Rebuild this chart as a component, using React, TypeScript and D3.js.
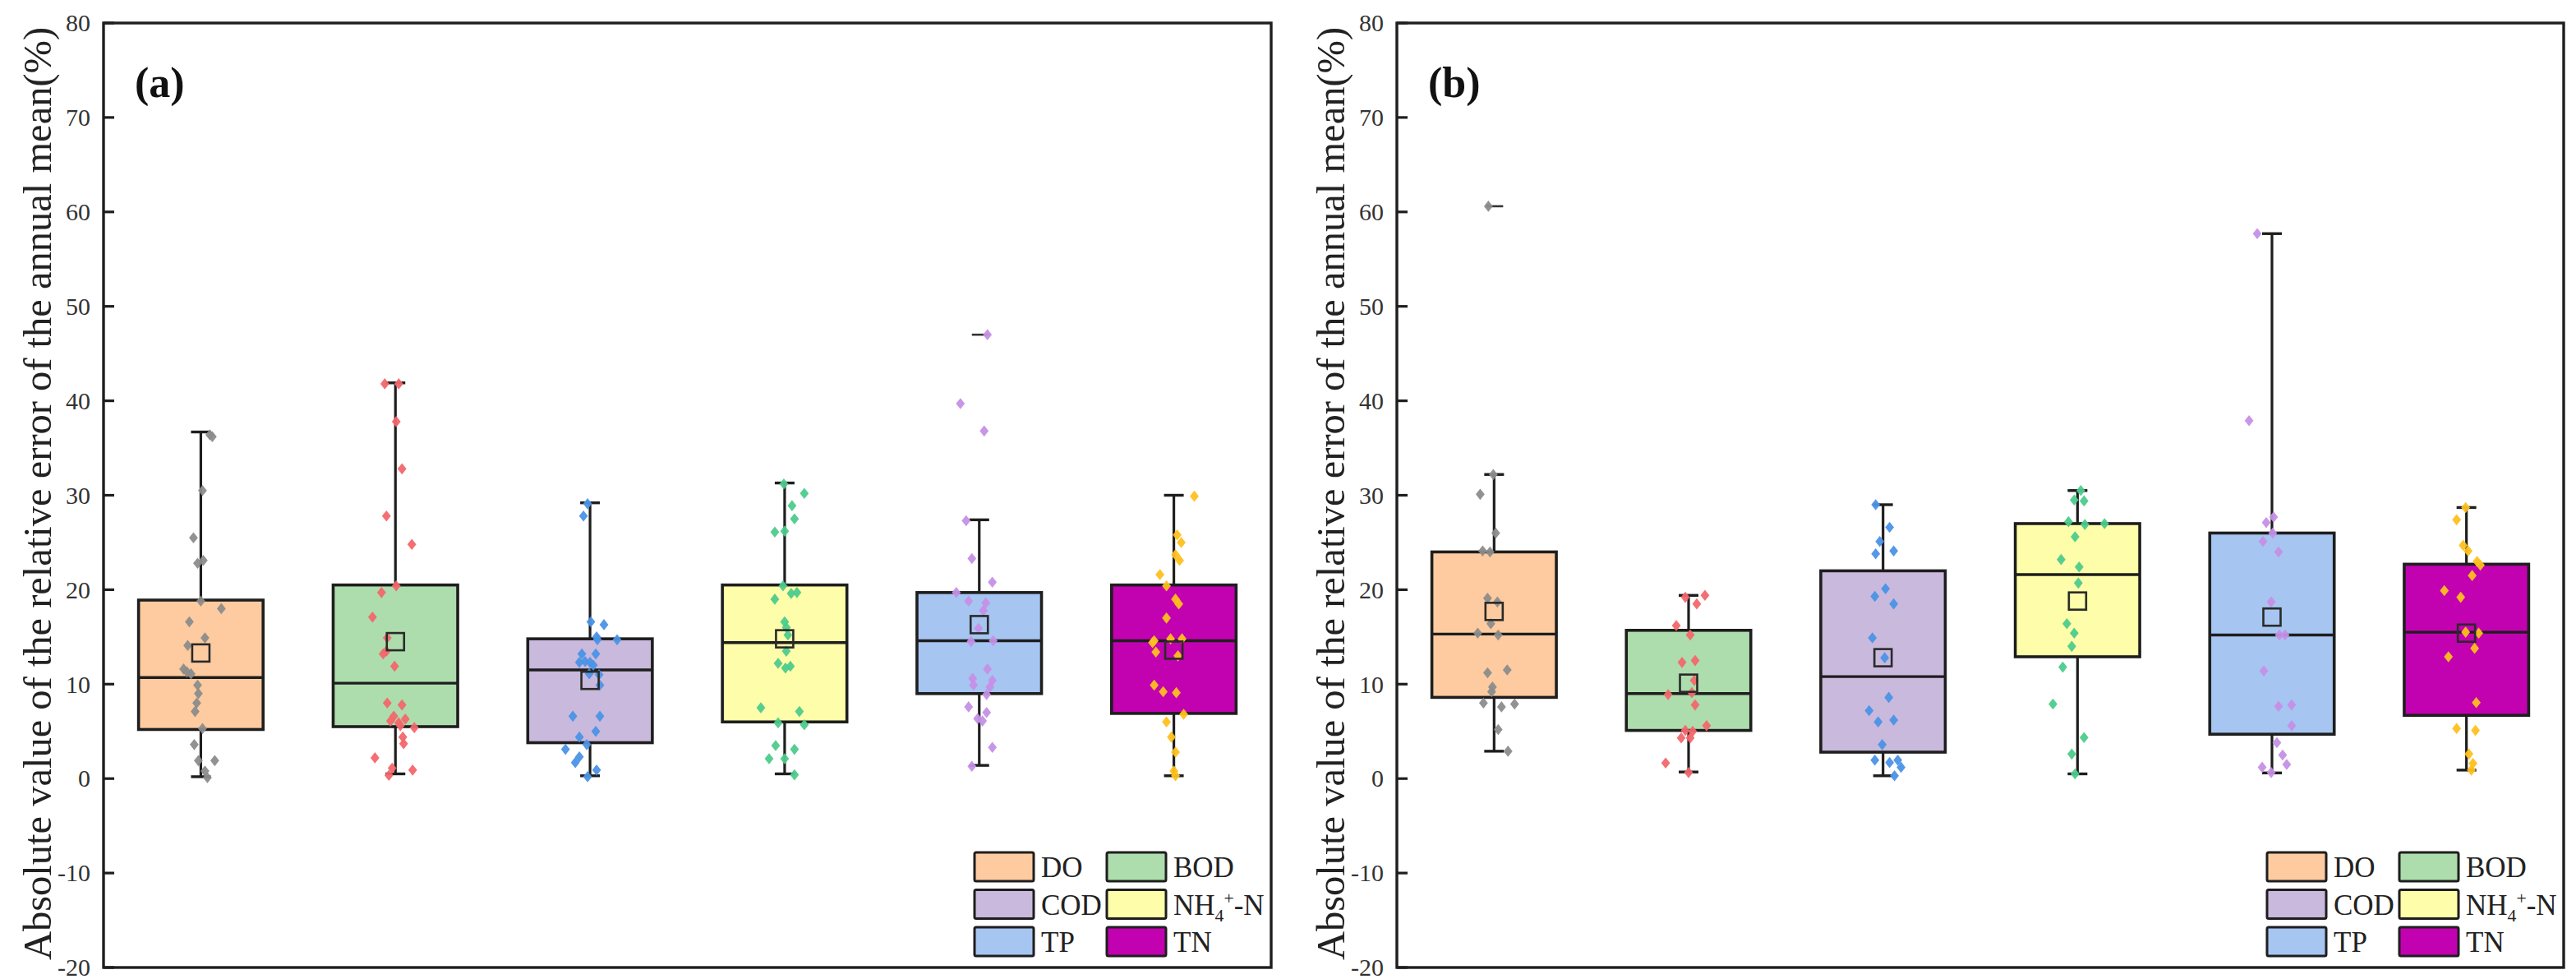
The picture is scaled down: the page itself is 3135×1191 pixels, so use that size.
import React from "react";
import * as d3 from "d3";

// ---------- data ----------
const categories = ["DO", "BOD", "COD", "NH4", "TP", "TN"];

// panel (a) box statistics
const whiskerHighA = [36.7, 41.9, 29.2, 31.3, 27.4, 30.0];
const q3A = [18.9, 20.5, 14.8, 20.5, 19.7, 20.5];
const medianA = [10.7, 10.1, 11.5, 14.4, 14.6, 14.6];
const q1A = [5.2, 5.5, 3.8, 6.0, 9.0, 6.9];
const whiskerLowA = [0.2, 0.5, 0.3, 0.5, 1.4, 0.3];
const meanA = [13.3, 14.5, 10.4, 14.8, 16.3, 13.6];
const maxMarkA = [null, null, null, null, 47.0, null];

// panel (b) box statistics
const whiskerHighB = [32.2, 19.4, 29.0, 30.5, 57.7, 28.7];
const q3B = [24.0, 15.7, 22.0, 27.0, 26.0, 22.7];
const medianB = [15.3, 9.0, 10.8, 21.6, 15.2, 15.5];
const q1B = [8.6, 5.1, 2.8, 12.9, 4.7, 6.7];
const whiskerLowB = [2.9, 0.7, 0.3, 0.5, 0.6, 0.9];
const meanB = [17.7, 10.1, 12.8, 18.8, 17.1, 15.4];
const maxMarkB = [60.6, null, null, null, null, null];

// panel (a) raw points (value) and their horizontal jitter (1/152 of box width)
const doA = [36.4, 36.2, 30.5, 25.5, 22.8, 23.1, 18.8, 18.0, 16.6, 14.9, 14.1, 11.6, 11.3, 11.1, 9.9, 9.0, 8.0, 7.1, 5.3, 3.6, 1.9, 1.9, 0.8, 0.1];
const doAJit = [11, 14, 2, -9, -4, 3, 0, 25, -14, 5, -16, -21, -17, -12, -4, -3, -5, -7, 2, -8, -3, 17, 5, 8];
const bodA = [41.8, 41.8, 37.8, 32.8, 27.8, 24.8, 20.4, 19.7, 17.1, 14.9, 13.5, 13.2, 11.9, 8.0, 7.8, 6.6, 6.3, 6.1, 5.9, 5.6, 5.4, 4.4, 3.7, 2.2, 1.1, 0.9, 0.35];
const bodAJit = [-13, 4, 1, 8, -11, 20, 1, -17, -28, -10, -11, -15, -1, -10, 8, -2, 12, -6, 4, 6, 23, 9, 10, -25, -4, 21, -8];
const codA = [29.1, 27.8, 16.6, 16.3, 15.0, 14.7, 14.7, 13.2, 13.2, 12.3, 12.4, 12.3, 12.0, 11.1, 11.0, 9.9, 6.6, 6.6, 5.0, 4.4, 3.6, 3.1, 2.3, 1.7, 0.9, 0.2];
const codAJit = [-3, -8, 1, 17, 8, 9, 33, -10, 7, -13, -6, 0, 4, -1, 11, 12, -21, 12, 7, -13, -4, -30, -13, -18, 8, -3];
const nh4A = [31.2, 30.2, 28.9, 27.5, 26.1, 26.2, 20.4, 19.6, 19.7, 19.0, 16.6, 16.0, 15.2, 13.5, 12.2, 11.7, 11.9, 7.5, 7.1, 5.9, 5.7, 3.5, 3.1, 2.1, 2.1, 0.4];
const nh4AJit = [-1, 24, 9, 12, -12, 0, -2, 8, 15, -12, 0, 2, 4, 2, -8, 1, 7, -29, 18, -8, 24, -11, 12, -19, 0, 12];
const tpA = [47.0, 39.7, 36.8, 27.3, 23.3, 20.8, 19.7, 18.8, 18.6, 17.8, 15.9, 14.5, 14.6, 11.6, 10.6, 10.4, 9.9, 9.7, 8.9, 7.6, 7.0, 6.35, 6.1, 3.3, 1.3];
const tpAJit = [10, -23, 6, -16, -9, 16, -28, -13, 8, 5, -1, -10, 17, 10, -8, 16, -7, 13, 9, -13, 9, -2, 4, 16, -9];
const tnA = [29.9, 25.8, 25.0, 23.7, 23.1, 21.6, 20.4, 19.0, 18.5, 17.0, 14.6, 14.8, 14.8, 14.4, 13.4, 13.0, 9.9, 9.2, 9.1, 6.8, 6.0, 4.4, 2.8, 0.8, 0.3];
const tnAJit = [25, 4, 9, 2, 7, -17, -9, 2, 6, -9, -24, -4, 10, -26, -22, 5, -24, -13, 3, 12, -9, -3, 2, 0, 2];

// panel (b) raw points and jitter
const doB = [60.6, 32.2, 30.1, 26.0, 24.1, 24.0, 19.1, 18.7, 16.4, 15.4, 15.2, 11.2, 11.5, 9.7, 9.2, 8.0, 7.6, 7.9, 5.2, 2.9];
const doBJit = [-7, -1, -17, 2, -14, -5, -8, 4, -4, -20, 5, -8, 16, -2, -3, -13, 9, 25, 5, 17];
const bodB = [19.2, 19.4, 18.5, 16.2, 15.2, 12.3, 12.5, 10.4, 8.9, 9.1, 7.8, 5.6, 5.1, 5.0, 4.3, 4.3, 1.65, 0.64];
const bodBJit = [-4, 20, 10, -15, 2, -8, 8, 7, -25, 4, 8, 22, -4, 5, -9, 2, -28, 0];
const codB = [29.0, 26.6, 25.1, 23.8, 24.1, 20.1, 19.3, 18.5, 14.9, 12.8, 8.6, 7.2, 6.0, 6.2, 3.6, 1.95, 1.7, 1.95, 1.2, 0.3];
const codBJit = [-9, 8, -4, -9, 13, 3, -10, 13, -13, 2, 7, -17, -6, 13, -1, -10, 8, 18, 22, 14];
const nh4B = [30.5, 29.5, 29.4, 27.2, 26.9, 27.0, 25.6, 23.2, 22.4, 20.7, 16.4, 15.4, 14.0, 11.8, 7.9, 4.35, 2.6, 0.5];
const nh4BJit = [4, -4, 8, -11, 9, 33, -3, -20, 2, 1, -13, -4, -7, -18, -30, 8, -7, -3];
const tpB = [57.7, 37.9, 27.7, 27.1, 26.0, 25.1, 24.0, 18.7, 15.2, 15.2, 11.4, 7.65, 7.8, 5.6, 3.8, 2.5, 1.2, 1.5, 0.64];
const tpBJit = [-18, -28, 2, -7, 1, -11, 8, -1, 9, 16, -10, 8, 24, 24, 6, 13, -12, 18, -1];
const tnB = [28.7, 27.4, 24.7, 24.1, 23.0, 22.6, 21.5, 19.9, 19.2, 15.5, 15.4, 13.8, 12.9, 8.05, 5.3, 5.1, 2.6, 1.6, 0.9];
const tnBJit = [-1, -12, -4, 2, 13, 17, 7, -27, -7, -1, 15, 10, -22, 12, -12, 11, 3, 8, 6];

const yTicks = [80, 70, 60, 50, 40, 30, 20, 10, 0, -10, -20];

// ---------- styles ----------
const boxFill = ["#FDCB9F", "#ADDDAC", "#C9B9DC", "#FEFDA9", "#A6C5F1", "#C201B0"];
const pointColor = ["#8C8C8C", "#F2676B", "#4B92E6", "#4DCB8C", "#C590E6", "#FFC01E"];
const INK = "#1e1e1e";
const SERIF = "'Liberation Serif', 'Times New Roman', serif";

const W = 3135;
const H = 1191;
const Y_TOP = 28;
const Y_BOTTOM = 1177;

type PanelData = {
  label: string;
  x0: number;
  x1: number;
  whiskerHigh: number[];
  q3: number[];
  median: number[];
  q1: number[];
  whiskerLow: number[];
  mean: number[];
  maxMark: (number | null)[];
  points: number[][];
  jitter: number[][];
};

const panels: PanelData[] = [
  {
    label: "(a)", x0: 126, x1: 1547,
    whiskerHigh: whiskerHighA, q3: q3A, median: medianA, q1: q1A, whiskerLow: whiskerLowA, mean: meanA, maxMark: maxMarkA,
    points: [doA, bodA, codA, nh4A, tpA, tnA],
    jitter: [doAJit, bodAJit, codAJit, nh4AJit, tpAJit, tnAJit],
  },
  {
    label: "(b)", x0: 1700, x1: 3120,
    whiskerHigh: whiskerHighB, q3: q3B, median: medianB, q1: q1B, whiskerLow: whiskerLowB, mean: meanB, maxMark: maxMarkB,
    points: [doB, bodB, codB, nh4B, tpB, tnB],
    jitter: [doBJit, bodBJit, codBJit, nh4BJit, tpBJit, tnBJit],
  },
];

const diamond = "M0,-6.8L5.4,0L0,6.8L-5.4,0Z";

function CatLabel({ name, x, y, size }: { name: string; x: number; y: number; size: number }) {
  if (name === "NH4") {
    return (
      <text x={x} y={y} fontFamily={SERIF} fontSize={size} fill="#222">
        NH
        <tspan dy={size * 0.25} fontSize={size * 0.62}>4</tspan>
        <tspan dy={-size * 0.62} fontSize={size * 0.62}>+</tspan>
        <tspan dy={size * 0.37}>-N</tspan>
      </text>
    );
  }
  return (
    <text x={x} y={y} fontFamily={SERIF} fontSize={size} fill="#222">
      {name}
    </text>
  );
}

function Panel({ p }: { p: PanelData }) {
  const y = d3.scaleLinear().domain([-20, 80]).range([Y_BOTTOM, Y_TOP]);
  const x = d3.scaleBand<string>().domain(categories).range([p.x0, p.x1]).padding(0);
  const bw = x.bandwidth();
  const boxW = bw * 0.64;
  const capW = 24;
  const jitScale = boxW / 152;

  // legend
  const legendRows = [
    [0, 1],
    [2, 3],
    [4, 5],
  ];
  const legCol = [p.x1 - 361, p.x1 - 200];
  const legRow0 = 1037;
  const legPitch = 45.5;

  return (
    <g>
      {/* boxes */}
      {categories.map((c, i) => {
        const cx = (x(c) as number) + bw / 2;
        return (
          <g key={c}>
            <line x1={cx} x2={cx} y1={y(p.q3[i])} y2={y(p.whiskerHigh[i])} stroke={INK} strokeWidth={3.2} />
            <line x1={cx} x2={cx} y1={y(p.q1[i])} y2={y(p.whiskerLow[i])} stroke={INK} strokeWidth={3.2} />
            <line x1={cx - capW / 2} x2={cx + capW / 2} y1={y(p.whiskerHigh[i])} y2={y(p.whiskerHigh[i])} stroke={INK} strokeWidth={3.4} />
            <line x1={cx - capW / 2} x2={cx + capW / 2} y1={y(p.whiskerLow[i])} y2={y(p.whiskerLow[i])} stroke={INK} strokeWidth={3.4} />
            <rect
              x={cx - boxW / 2}
              y={y(p.q3[i])}
              width={boxW}
              height={y(p.q1[i]) - y(p.q3[i])}
              fill={boxFill[i]}
              stroke={INK}
              strokeWidth={3.6}
            />
            <line x1={cx - boxW / 2} x2={cx + boxW / 2} y1={y(p.median[i])} y2={y(p.median[i])} stroke={INK} strokeWidth={3.4} />
            {p.maxMark[i] != null && (
              <line
                x1={cx - 9}
                x2={cx + 11}
                y1={y(p.maxMark[i] as number)}
                y2={y(p.maxMark[i] as number)}
                stroke="#333"
                strokeWidth={2.6}
              />
            )}
            {p.points[i].map((v, k) => (
              <path
                key={k}
                d={diamond}
                transform={`translate(${cx + p.jitter[i][k] * jitScale},${y(v)})`}
                fill={pointColor[i]}
                opacity={0.95}
              />
            ))}
            <rect
              x={cx - 10.5}
              y={y(p.mean[i]) - 10.5}
              width={21}
              height={21}
              fill="none"
              stroke="#2a2a2a"
              strokeWidth={2.6}
            />
          </g>
        );
      })}

      {/* frame */}
      <rect x={p.x0} y={Y_TOP} width={p.x1 - p.x0} height={Y_BOTTOM - Y_TOP} fill="none" stroke={INK} strokeWidth={3.4} />

      {/* y ticks */}
      {yTicks.map((t) => (
        <g key={t}>
          <line x1={p.x0} x2={p.x0 + 13} y1={y(t)} y2={y(t)} stroke={INK} strokeWidth={3.2} />
          <text
            x={p.x0 - 16}
            y={y(t)}
            dy="0.34em"
            textAnchor="end"
            fontFamily={SERIF}
            fontSize={30}
            fill="#333"
          >
            {t < 0 ? `-${Math.abs(t)}` : t}
          </text>
        </g>
      ))}

      {/* y title */}
      <text
        transform={`translate(${p.x0 - 64},${(Y_TOP + Y_BOTTOM) / 2 - 2}) rotate(-90)`}
        textAnchor="middle"
        fontFamily={SERIF}
        fontSize={48.5}
        fill="#222"
      >
        Absolute value of the relative error of the annual mean(%)
      </text>

      {/* panel label */}
      <text x={p.x0 + 38} y={118} fontFamily={SERIF} fontWeight="bold" fontSize={52} fill="#111">
        {p.label}
      </text>

      {/* legend */}
      {legendRows.map((row, r) =>
        row.map((ci, col) => (
          <g key={`${r}-${col}`}>
            <rect
              x={legCol[col]}
              y={legRow0 + r * legPitch}
              width={72}
              height={35}
              rx={2}
              fill={boxFill[ci]}
              stroke={INK}
              strokeWidth={3}
            />
            <CatLabel name={categories[ci]} x={legCol[col] + 81} y={legRow0 + r * legPitch + 30} size={35} />
          </g>
        ))
      )}
    </g>
  );
}

export default function App() {
  return (
    <svg
      width={W}
      height={H}
      viewBox={`0 0 ${W} ${H}`}
      style={{ position: "absolute", left: 0, top: 0, background: "#fff" }}
    >
      <rect x={0} y={0} width={W} height={H} fill="#fff" />
      {panels.map((p) => (
        <Panel key={p.label} p={p} />
      ))}
    </svg>
  );
}
